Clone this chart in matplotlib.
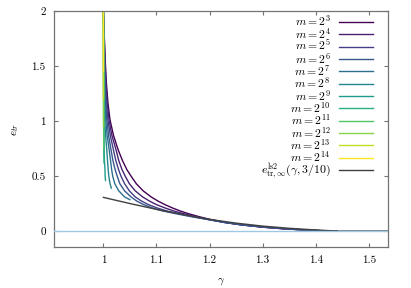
import numpy as np
import matplotlib
matplotlib.use("Agg")
import matplotlib.pyplot as plt

plt.rcParams['font.family'] = 'serif'
plt.rcParams['font.serif'] = ['cmr10']
plt.rcParams['mathtext.fontset'] = 'cm'
plt.rcParams['axes.formatter.use_mathtext'] = True

# curves, (gamma, e_tr) per m, m = 2^3 ... 2^14
g_m3 = [1.0, 1.0015, 1.0035, 1.0056, 1.0085, 1.0125, 1.019, 1.028, 1.036, 1.044, 1.052, 1.062, 1.075,
        1.09, 1.103, 1.116, 1.13, 1.145, 1.16, 1.18, 1.2, 1.23, 1.26, 1.3, 1.34, 1.38, 1.41, 1.44]
e_m3 = [2.0, 1.80, 1.55, 1.35, 1.17, 1.01, 0.87, 0.736, 0.64, 0.56, 0.50, 0.43, 0.365,
        0.31, 0.272, 0.24, 0.21, 0.182, 0.158, 0.131, 0.107, 0.078, 0.056, 0.035, 0.02, 0.009, 0.003, 0.0]

levels = [2.0, 1.80, 1.55, 1.35, 1.17, 1.01, 0.87, 0.736, 0.64, 0.56, 0.50, 0.43, 0.365,
          0.31, 0.272, 0.24, 0.21, 0.182, 0.158, 0.131, 0.107, 0.078, 0.056, 0.035, 0.02, 0.009, 0.003, 0.0]
g_m4 = [1.0, 1.0012, 1.003, 1.0047, 1.0072, 1.0105, 1.016, 1.024, 1.029, 1.035, 1.041, 1.049, 1.06,
        1.074, 1.087, 1.1, 1.116, 1.133, 1.151, 1.174, 1.197, 1.229, 1.26, 1.302, 1.342, 1.381, 1.41, 1.44]
g_m5 = [1.0, 1.001, 1.0025, 1.0038, 1.0058, 1.0085, 1.013, 1.019, 1.0235, 1.0285, 1.033, 1.04, 1.049,
        1.06, 1.072, 1.085, 1.101, 1.12, 1.142, 1.168, 1.195, 1.228, 1.261, 1.304, 1.344, 1.383, 1.412, 1.44]
g_m6 = [1.0, 1.0008, 1.002, 1.003, 1.0045, 1.0065, 1.0098, 1.0145, 1.018, 1.022, 1.026, 1.031, 1.04,
        1.052, 1.063, 1.076, 1.092, 1.112, 1.136, 1.165, 1.194, 1.228, 1.262, 1.306, 1.346, 1.385, 1.414, 1.44]

g_m7 = [1.0, 1.0006, 1.0015, 1.0023, 1.0033, 1.0045, 1.007, 1.011, 1.0135, 1.0155, 1.0175, 1.0215, 1.029, 1.04, 1.05]
e_m7 = [2.0, 1.80, 1.55, 1.35, 1.17, 1.01, 0.87, 0.736, 0.64, 0.56, 0.50, 0.43, 0.365, 0.31, 0.285]
g_m8 = [1.0, 1.0004, 1.0009, 1.0012, 1.0018, 1.0026, 1.0042, 1.0064, 1.0078, 1.009, 1.0102, 1.0125, 1.015]
e_m8 = [2.0, 1.80, 1.55, 1.35, 1.17, 1.01, 0.87, 0.736, 0.64, 0.56, 0.50, 0.43, 0.39]
g_m9 = [1.0, 1.0005, 1.0008, 1.001, 1.0011, 1.0013, 1.002, 1.003, 1.0033, 1.004]
e_m9 = [2.0, 1.55, 1.17, 1.01, 0.87, 0.736, 0.64, 0.56, 0.50, 0.46]
g_m10 = [1.0, 1.0003, 1.0005, 1.0008, 1.0012]
e_m10 = [2.0, 1.5, 1.0, 0.75, 0.62]
g_m11 = [1.0, 1.0002, 1.0004, 1.0006]
e_m11 = [2.0, 1.5, 1.0, 0.75]
g_m12 = [1.0, 1.0002, 1.0003]
e_m12 = [2.0, 1.5, 0.95]
g_m13 = [1.0, 1.0001, 1.0002]
e_m13 = [2.0, 1.5, 1.2]
g_m14 = [1.0, 1.0001]
e_m14 = [2.0, 1.45]

# limit curve e^ls2_tr,inf(gamma, 3/10)
g_inf = [1.0, 1.05, 1.1, 1.15, 1.2, 1.25, 1.3, 1.35, 1.4, 1.44, 1.54]
e_inf = [0.306, 0.25, 0.197, 0.15, 0.106, 0.072, 0.045, 0.025, 0.01, 0.0, 0.0]

exponents = [3, 4, 5, 6, 7, 8, 9, 10, 11, 12, 13, 14]
xticks = [1, 1.1, 1.2, 1.3, 1.4, 1.5]
xticklabels = ['1', '1.1', '1.2', '1.3', '1.4', '1.5']
yticks = [0, 0.5, 1, 1.5, 2]
yticklabels = ['0', '0.5', '1', '1.5', '2']

curves = [(g_m3, e_m3), (g_m4, levels), (g_m5, levels), (g_m6, levels), (g_m7, e_m7), (g_m8, e_m8),
          (g_m9, e_m9), (g_m10, e_m10), (g_m11, e_m11), (g_m12, e_m12), (g_m13, e_m13), (g_m14, e_m14)]

fig = plt.figure(figsize=(4.11, 2.88), dpi=100)
ax = fig.add_axes([54 / 411, 41 / 288, 334 / 411, 236 / 288])

ax.axhline(0, color='#9fc9e2', lw=1.0, zorder=3)

colors = plt.cm.viridis(np.linspace(0, 1, len(exponents)))
for (g, e), p, c in zip(curves, exponents, colors):
    ax.plot(g, e, color=c, lw=1.0, label=r'$m = 2^{%d}$' % p)
ax.plot(g_inf, e_inf, color='#404040', lw=1.0,
        label=r'$e^{\mathrm{ls2}}_{\mathrm{tr},\infty}(\gamma, 3/10)$')

ax.set_xlim(0.907, 1.536)
ax.set_ylim(-0.145, 2.0)
ax.set_xticks(xticks)
ax.set_xticklabels(xticklabels)
ax.set_yticks(yticks)
ax.set_yticklabels(yticklabels)
ax.tick_params(direction='in', top=True, right=True, length=3, width=0.8,
               color='0.45', labelsize=8, pad=6)
for s in ax.spines.values():
    s.set_color('0.45')
    s.set_linewidth(0.9)

ax.set_xlabel(r'$\gamma$', fontsize=8)
ax.set_ylabel(r'$e_{tr}$', fontsize=8)
ax.xaxis.set_label_coords(0.5, -0.125)
ax.yaxis.set_label_coords(-0.1, 0.5)

leg = ax.legend(loc='upper right', bbox_to_anchor=(0.955, 0.99), frameon=False,
                markerfirst=False, fontsize=8.5, handlelength=2.9, handletextpad=0.7,
                labelspacing=-0.22, borderpad=0, borderaxespad=0)
leg._legend_box.align = 'right'

fig.savefig('out.png', dpi=100)
